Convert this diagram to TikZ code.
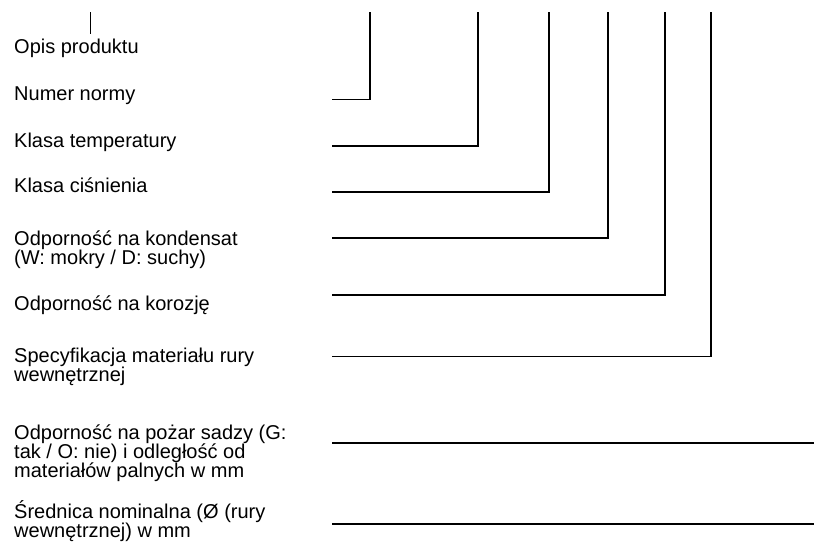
\documentclass[tikz,border=0pt]{standalone}
\usepackage{fontspec}
\setmainfont{Liberation Sans}
\usetikzlibrary{positioning}

\begin{document}
\begin{tikzpicture}[
  x=1pt, y=-1pt,
  txt/.style={anchor=base west, inner sep=0pt, align=left,
              font=\fontsize{20}{19.4}\selectfont},
  lead/.style={line width=1.6pt},
  tick/.style={line width=0.8pt}
]
  \useasboundingbox (0,0) rectangle (814,549);

  % Labels (multi-line ones are placed at their last baseline)
  \node[txt] (opis) at (14, 53) {Opis produktu};
  \node[txt] (norma) at (14, 100) {Numer normy};
  \node[txt] (temp) at (14, 147) {Klasa temperatury};
  \node[txt] (cisn) at (14, 192.5) {Klasa ciśnienia};
  \node[txt] (kond) at (14, 264.4) {Odporność na kondensat\\(W: mokry / D: suchy)};
  \node[txt] (koroz) at (14, 310) {Odporność na korozję};
  \node[txt] (mat) at (14, 381.4) {Specyfikacja materiału rury\\wewnętrznej};
  \node[txt] (pozar) at (14, 477.8) {Odporność na pożar sadzy (G:\\tak / O: nie) i odległość od\\materiałów palnych w mm};
  \node[txt] (sred) at (14, 537.4) {Średnica nominalna (Ø (rury\\wewnętrznej) w mm};

  % Line ends
  \coordinate (t0) at (90, 12);
  \coordinate (b0) at (90, 34);
  \coordinate (s1) at (332, 99.5);  \coordinate (t1) at (370, 12);
  \coordinate (s2) at (332, 145.7); \coordinate (t2) at (478, 12);
  \coordinate (s3) at (332, 192);   \coordinate (t3) at (549, 12);
  \coordinate (s4) at (332, 237.7); \coordinate (t4) at (608, 12);
  \coordinate (s5) at (332, 294.7); \coordinate (t5) at (665, 12);
  \coordinate (s6) at (332, 356.3); \coordinate (t6) at (711, 12);
  \coordinate (s7) at (332, 442.7); \coordinate (e7) at (814, 442.7);
  \coordinate (s8) at (332, 523.7); \coordinate (e8) at (814, 523.7);

  % Leaders
  \draw[tick] (t0) -- (b0);
  \draw[lead] (s1) -| (t1);
  \draw[lead] (s2) -| (t2);
  \draw[lead] (s3) -| (t3);
  \draw[lead] (s4) -| (t4);
  \draw[lead] (s5) -| (t5);
  \draw[lead] (s6) -| (t6);
  \draw[lead] (s7) -- (e7);
  \draw[lead] (s8) -- (e8);
\end{tikzpicture}
\end{document}
